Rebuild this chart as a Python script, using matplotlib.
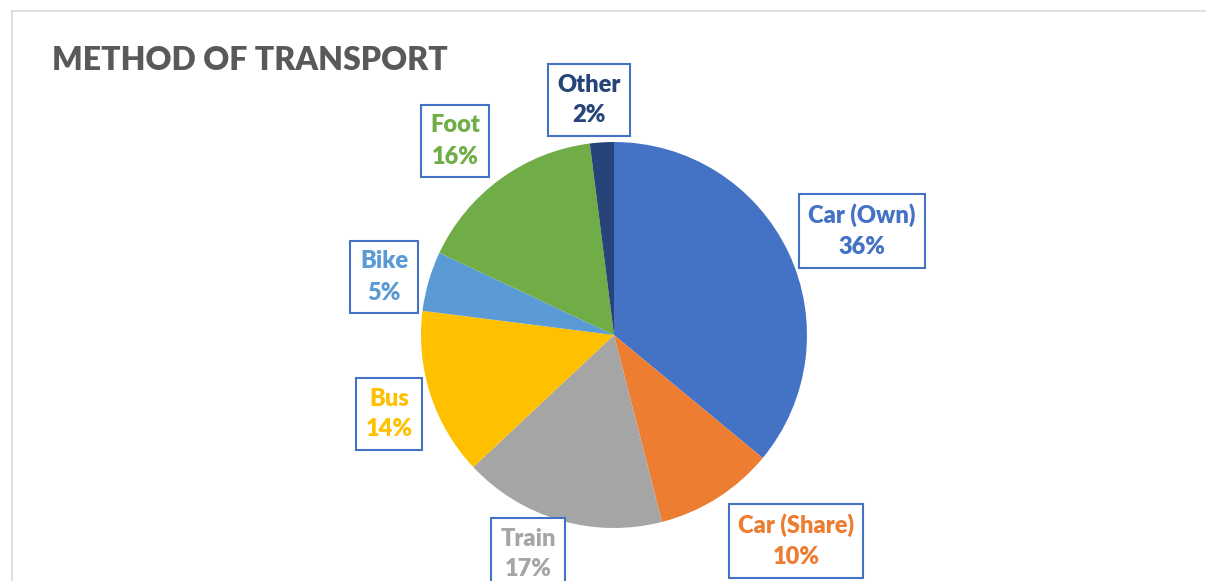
import matplotlib
matplotlib.use("Agg")
import matplotlib.pyplot as plt
from matplotlib.lines import Line2D

categories = ["Car (Own)", "Car (Share)", "Train", "Bus", "Bike", "Foot", "Other"]
values = [36, 10, 17, 14, 5, 16, 2]
colors = ["#4472C4", "#ED7D31", "#A5A5A5", "#FFC000", "#5B9BD5", "#70AD47", "#264478"]
title = "METHOD OF TRANSPORT"

# label box centres in pixel coordinates (layout)
label_pos = [(862, 231), (796, 541), (528, 554), (389, 414), (384, 277), (455, 141), (589, 100)]

W, H = 1206, 581
fig = plt.figure(figsize=(W / 100, H / 100), dpi=100)
ax = fig.add_axes([0, 0, 1, 1])
cx, cy, r = 614, H - 335, 193
ax.pie(values, colors=colors, startangle=90, counterclock=False,
       center=(cx, cy), radius=r, frame=True,
       wedgeprops=dict(linewidth=0))
ax.set_xlim(0, W)
ax.set_ylim(0, H)
ax.set_aspect("equal")
ax.axis("off")

fam = ["Lato", "DejaVu Sans"]
for cat, val, col, (lx, ly) in zip(categories, values, colors, label_pos):
    ax.text(lx, H - ly, f"{cat}\n{val}%", ha="center", va="center",
            fontsize=17, fontweight="heavy", color=col, family=fam,
            linespacing=1.5, multialignment="center",
            bbox=dict(boxstyle="square,pad=0.4", fc="white", ec="#4472C4", lw=1.5))

fig.text(52 / W, 1 - 61 / H, title, ha="left", va="center", fontsize=23,
         fontweight="heavy", color="#595959", family=fam)

fig.add_artist(Line2D([12 / W, 1], [1 - 11 / H, 1 - 11 / H], color="#D9D9D9", lw=1.2))
fig.add_artist(Line2D([12 / W, 12 / W], [0, 1 - 11 / H], color="#D9D9D9", lw=1.2))

fig.savefig("out.png", dpi=100, facecolor="white")
